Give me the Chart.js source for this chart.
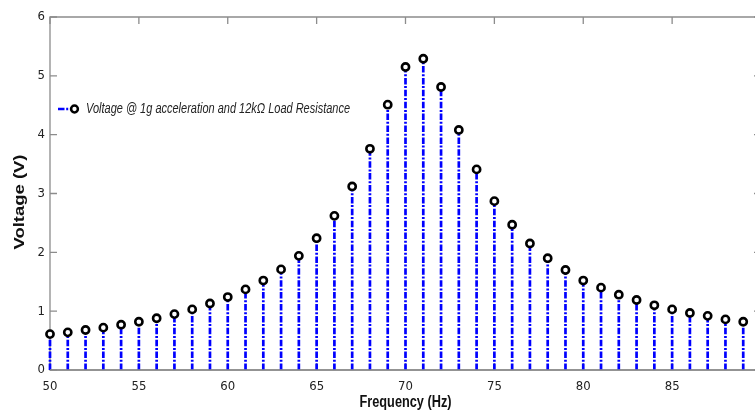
<!DOCTYPE html>
<html>
<head>
<meta charset="utf-8">
<script src="https://cdn.jsdelivr.net/npm/chart.js@4/dist/chart.umd.min.js"></script>
<style>
  html, body { margin: 0; padding: 0; background: #fff; overflow: hidden; }
  #wrap { width: 755px; height: 414px; overflow: hidden; position: relative; }
  canvas { display: block; }
</style>
</head>
<body>
<div id="wrap"><canvas id="c" width="770" height="414"></canvas></div>
<script>
// ---- data ----
const frequency = [50, 51, 52, 53, 54, 55, 56, 57, 58, 59,
                   60, 61, 62, 63, 64, 65, 66, 67, 68, 69,
                   70, 71, 72, 73, 74, 75, 76, 77, 78, 79,
                   80, 81, 82, 83, 84, 85, 86, 87, 88, 89];
const voltage = [0.61, 0.64, 0.68, 0.72, 0.77, 0.82, 0.88, 0.95, 1.03, 1.13,
                 1.24, 1.37, 1.52, 1.71, 1.94, 2.24, 2.62, 3.12, 3.76, 4.51,
                 5.15, 5.29, 4.81, 4.08, 3.41, 2.87, 2.47, 2.15, 1.90, 1.70,
                 1.52, 1.40, 1.28, 1.19, 1.10, 1.03, 0.97, 0.92, 0.86, 0.82];
const xTickLabels = [50, 55, 60, 65, 70, 75, 80, 85];
const yTickLabels = [0, 1, 2, 3, 4, 5, 6];
const seriesLabel = 'Voltage @ 1g acceleration and 12k\u03A9 Load Resistance';
const xTitle = 'Frequency (Hz)';
const yTitle = 'Voltage (V)';

// ---- derived datasets ----
const markerPoints = frequency.map((f, i) => ({ x: f, y: voltage[i] }));
const stemPoints = [];
frequency.forEach((f, i) => {
  stemPoints.push({ x: f, y: 0 });
  stemPoints.push({ x: f, y: voltage[i] });
  stemPoints.push({ x: f, y: null });
});

const NARROW = "'Liberation Sans Narrow', 'DejaVu Sans Condensed', 'Liberation Sans', Arial, sans-serif";
const STEM_COLOR = '#0000ff';
const AXIS_COLOR = '#8c8c8c';
const STEM_DASH = [6.5, 1.7, 2, 1.7];

function drawScaledText(ctx, text, font, targetWidth, x, y, rotate, align) {
  ctx.save();
  ctx.font = font;
  const w = ctx.measureText(text).width;
  const s = targetWidth / w;
  ctx.translate(x, y);
  if (rotate) ctx.rotate(-Math.PI / 2);
  ctx.scale(s, 1);
  ctx.textAlign = align || 'center';
  ctx.textBaseline = 'middle';
  ctx.fillText(text, 0, 0);
  ctx.restore();
}

const framePlugin = {
  id: 'frame',
  beforeDatasetsDraw(chart) {
    const ctx = chart.ctx;
    const a = chart.chartArea;
    const xs = chart.scales.x, ys = chart.scales.y;
    ctx.save();
    ctx.strokeStyle = AXIS_COLOR;
    ctx.lineWidth = 1.3;
    ctx.beginPath();
    ctx.rect(a.left, a.top, a.right - a.left, a.bottom - a.top);
    ctx.stroke();
    const tl = 7;
    ctx.beginPath();
    xTickLabels.forEach(v => {
      const px = xs.getPixelForValue(v);
      ctx.moveTo(px, a.bottom); ctx.lineTo(px, a.bottom - tl);
      ctx.moveTo(px, a.top); ctx.lineTo(px, a.top + tl);
    });
    yTickLabels.forEach(v => {
      const py = ys.getPixelForValue(v);
      ctx.moveTo(a.left, py); ctx.lineTo(a.left + tl, py);
      ctx.moveTo(a.right, py); ctx.lineTo(a.right - tl, py);
    });
    ctx.stroke();
    ctx.restore();
  },
  afterDatasetsDraw(chart) {
    const ctx = chart.ctx;
    const a = chart.chartArea;
    ctx.save();
    ctx.strokeStyle = AXIS_COLOR;
    ctx.lineWidth = 1.3;
    ctx.beginPath();
    ctx.moveTo(a.left, a.bottom); ctx.lineTo(a.right, a.bottom);
    ctx.stroke();
    ctx.restore();
  },
  afterDraw(chart) {
    const ctx = chart.ctx;
    const a = chart.chartArea;
    ctx.save();
    ctx.fillStyle = '#111';
    // axis titles
    drawScaledText(ctx, xTitle, "bold 16px 'Liberation Sans', Arial, sans-serif", 92,
      (a.left + a.right) / 2, 403, false, 'center');
    drawScaledText(ctx, yTitle, "bold 14px 'Liberation Sans', Arial, sans-serif", 95,
      20, 202, true, 'center');
    // legend
    const ly = 109;
    ctx.strokeStyle = STEM_COLOR;
    ctx.lineWidth = 2.6;
    ctx.setLineDash(STEM_DASH);
    ctx.beginPath();
    ctx.moveTo(58, ly); ctx.lineTo(72, ly);
    ctx.stroke();
    ctx.setLineDash([]);
    ctx.beginPath();
    ctx.arc(74.5, ly, 3.4, 0, Math.PI * 2);
    ctx.fillStyle = '#fff';
    ctx.fill();
    ctx.strokeStyle = '#000';
    ctx.lineWidth = 2.5;
    ctx.stroke();
    ctx.fillStyle = '#222';
    drawScaledText(ctx, seriesLabel, "italic 15px 'Liberation Sans', Arial, sans-serif", 264,
      86, ly, false, 'left');
    ctx.restore();
  }
};

new Chart(document.getElementById('c'), {
  data: {
    datasets: [
      {
        type: 'scatter',
        label: seriesLabel,
        data: markerPoints,
        clip: false,
        pointStyle: 'circle',
        pointRadius: 3.6,
        pointBorderWidth: 2.6,
        pointBorderColor: '#000',
        pointBackgroundColor: '#fff',
        showLine: false
      },
      {
        type: 'line',
        label: 'stems',
        data: stemPoints,
        clip: false,
        borderColor: STEM_COLOR,
        borderWidth: 2.7,
        borderDash: STEM_DASH,
        borderCapStyle: 'butt',
        pointRadius: 0,
        spanGaps: false,
        fill: false,
        tension: 0
      }
    ]
  },
  options: {
    responsive: false,
    animation: false,
    events: [],
    layout: { padding: { top: 17, right: 9, left: 0, bottom: 0 } },
    plugins: { legend: { display: false }, tooltip: { enabled: false } },
    scales: {
      x: {
        type: 'linear',
        min: 50, max: 90,
        border: { display: false },
        grid: { display: false, drawTicks: false },
        afterBuildTicks(scale) { scale.ticks = xTickLabels.map(v => ({ value: v })); },
        afterFit(scale) { scale.height = 44; },
        ticks: {
          color: '#222',
          padding: 9,
          maxRotation: 0,
          font: { family: NARROW, size: 13 }
        }
      },
      y: {
        type: 'linear',
        min: 0, max: 6,
        border: { display: false },
        grid: { display: false, drawTicks: false },
        afterBuildTicks(scale) { scale.ticks = yTickLabels.map(v => ({ value: v })); },
        afterFit(scale) { scale.width = 50; },
        ticks: {
          color: '#222',
          padding: 5,
          font: { family: NARROW, size: 13 }
        }
      }
    }
  },
  plugins: [framePlugin]
});
</script>
</body>
</html>
